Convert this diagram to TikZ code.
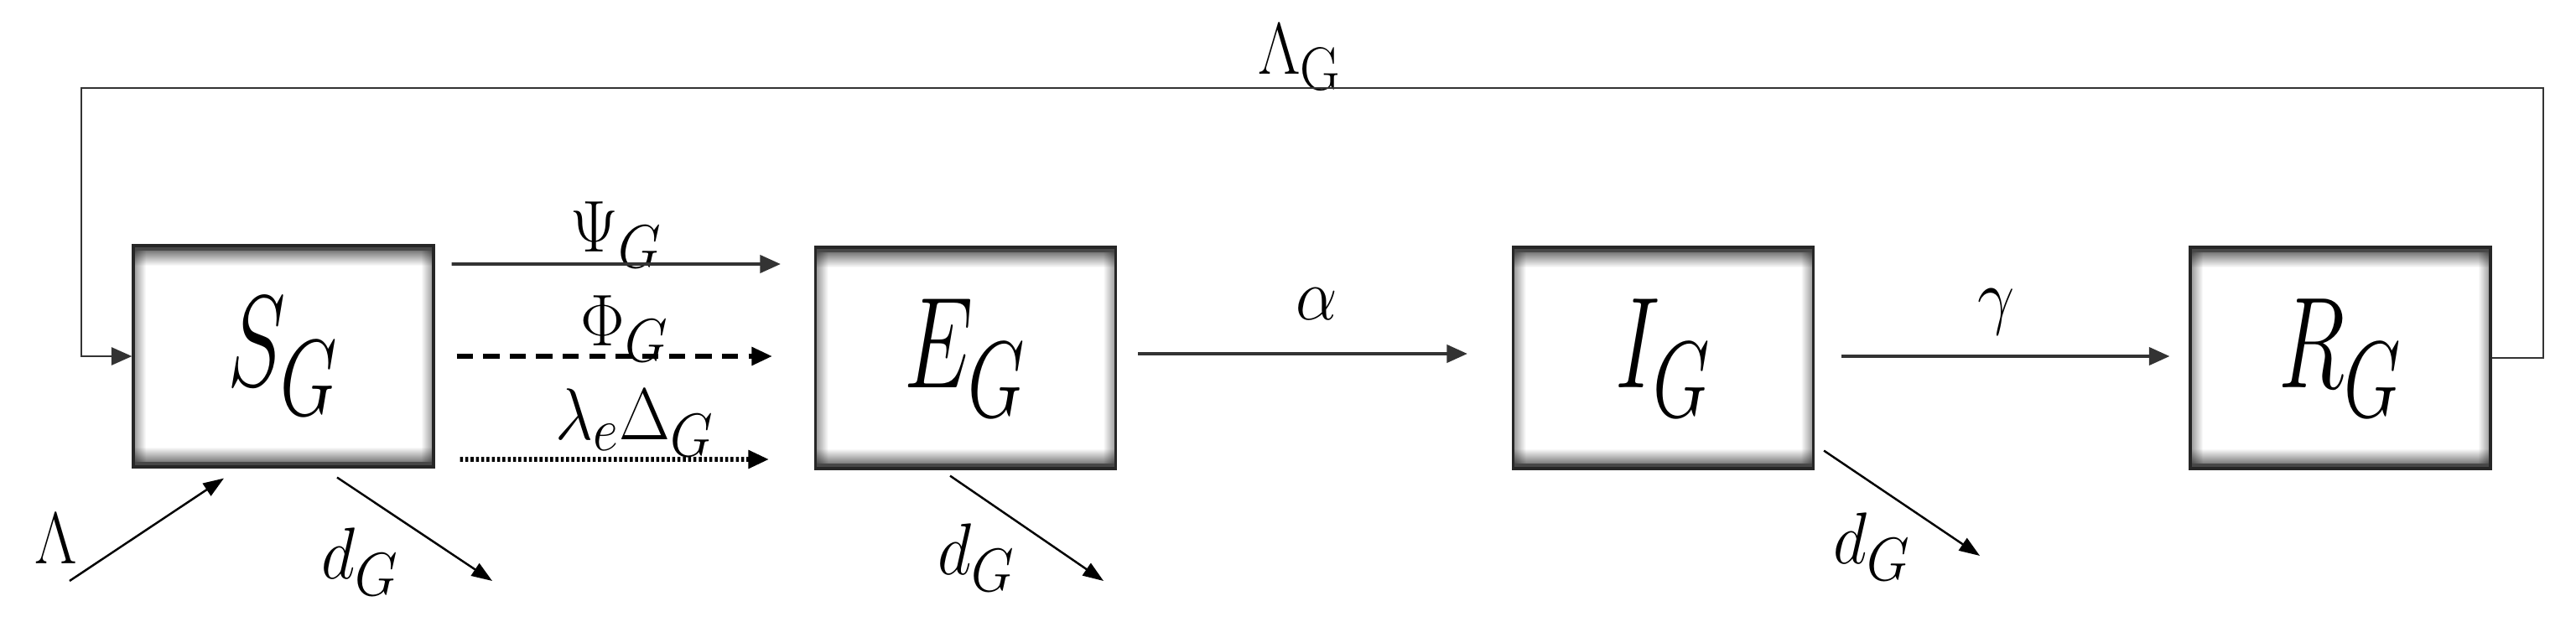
\documentclass[tikz,border=0pt]{standalone}
\usepackage{graphicx}
\usetikzlibrary{arrows.meta,positioning}
\newcommand{\boxlabel}[1]{\scalebox{1.2}[1.77]{$#1$}}
\tikzset{
    compartment/.style={draw=black!85, line width=0.9pt, minimum width=3.58cm, minimum height=2.64cm,
        inner sep=0pt, font=\Huge,
        path picture={
            \begin{scope}[blend mode=multiply]
            \shade[left color=black!42, right color=white] (path picture bounding box.south west) rectangle ([xshift=0.15cm]path picture bounding box.north west);
            \shade[right color=black!42, left color=white] (path picture bounding box.south east) rectangle ([xshift=-0.15cm]path picture bounding box.north east);
            \shade[top color=black!55, bottom color=white] ([yshift=-0.05cm]path picture bounding box.north west) rectangle ([yshift=-0.24cm]path picture bounding box.north east);
            \shade[bottom color=black!55, top color=white] ([yshift=0.05cm]path picture bounding box.south west) rectangle ([yshift=0.24cm]path picture bounding box.south east);
            \end{scope}
            \fill[black!72] (path picture bounding box.north west) rectangle ([yshift=-0.06cm]path picture bounding box.north east);
            \fill[black!72] (path picture bounding box.south west) rectangle ([yshift=0.06cm]path picture bounding box.south east);
        }},
    flow/.style={-{Triangle[length=7pt,width=6pt]}, line width=1.1pt, draw=black!80},
    outflow/.style={-{Triangle[length=7pt,width=5pt]}, line width=0.7pt},
    rate/.style={font=\Huge, inner sep=0pt, xscale=0.9, transform shape},
}
\begin{document}
\begin{tikzpicture}
    \useasboundingbox (0,0) rectangle (30.72,7.47);
    %draw compartments
    \node[compartment] (S) at (3.38,3.22) {\boxlabel{S_G}};
    \node[compartment] (E) at (11.515,3.20) {\boxlabel{E_G}};
    \node[compartment] (I) at (19.835,3.20) {\boxlabel{I_G}};
    \node[compartment] (R) at (27.91,3.20) {\boxlabel{R_G}};
    %draw rates
    \node[rate] (psi) at (7.35,4.67) {$\Psi_G$};
    \node[rate] (phi) at (7.45,3.55) {$\Phi_G$};
    \node[rate] (lam) at (7.57,2.43) {$\lambda_e\Delta_G$};
    \node[rate] (alpha) at (15.70,3.84) {$\alpha$};
    \node[rate] (gamma) at (23.81,3.75) {$\gamma$};
    \node[rate] (lamG) at (15.50,6.79) {$\Lambda_{\mathrm{G}}$};
    \node[rate] (Lam) at (0.67,1.04) {$\Lambda$};
    \node[rate] (dS) at (4.30,0.77) {$d_G$};
    \node[rate] (dE) at (11.65,0.82) {$d_G$};
    \node[rate] (dI) at (22.33,0.95) {$d_G$};
    \coordinate (topR) at (30.33,6.42);
    \coordinate (topL) at (0.97,6.42);
    \coordinate (LamIn) at (0.83,0.54);
    \coordinate (dSout) at (5.87,0.54);
    \coordinate (dEout) at (13.16,0.54);
    \coordinate (dIout) at (23.61,0.84);
    %draw flows between compartments
    \draw [flow] ([xshift=0.2cm,yshift=1.1cm]S.east) -- ([xshift=-0.4cm,yshift=1.12cm]E.west);
    \draw [flow,dash pattern=on 5.5pt off 3.5pt,line width=1.6pt,draw=black] ([xshift=0.26cm]S.east) -- ([xshift=-0.5cm,yshift=0.02cm]E.west);
    \draw [flow,dash pattern=on 1pt off 0.8pt,line width=1.6pt,draw=black] ([xshift=0.3cm,yshift=-1.23cm]S.east) -- ([xshift=-0.54cm,yshift=-1.21cm]E.west);
    \draw [flow] ([xshift=0.25cm,yshift=0.05cm]E.east) -- ([xshift=-0.53cm,yshift=0.05cm]I.west);
    \draw [flow] ([xshift=0.32cm,yshift=0.02cm]I.east) -- ([xshift=-0.23cm,yshift=0.02cm]R.west);
    \draw [flow,line width=0.8pt] (R.east) -| (topR) -- (topL) |- (S.west);
    %draw births and deaths
    \draw [outflow] (LamIn) -- ([xshift=-0.71cm,yshift=-0.12cm]S.south);
    \draw [outflow] ([xshift=0.64cm,yshift=-0.11cm]S.south) -- (dSout);
    \draw [outflow] ([xshift=-0.185cm,yshift=-0.07cm]E.south) -- (dEout);
    \draw [outflow] ([xshift=0.11cm,yshift=0.23cm]I.south east) -- (dIout);
\end{tikzpicture}
\end{document}
